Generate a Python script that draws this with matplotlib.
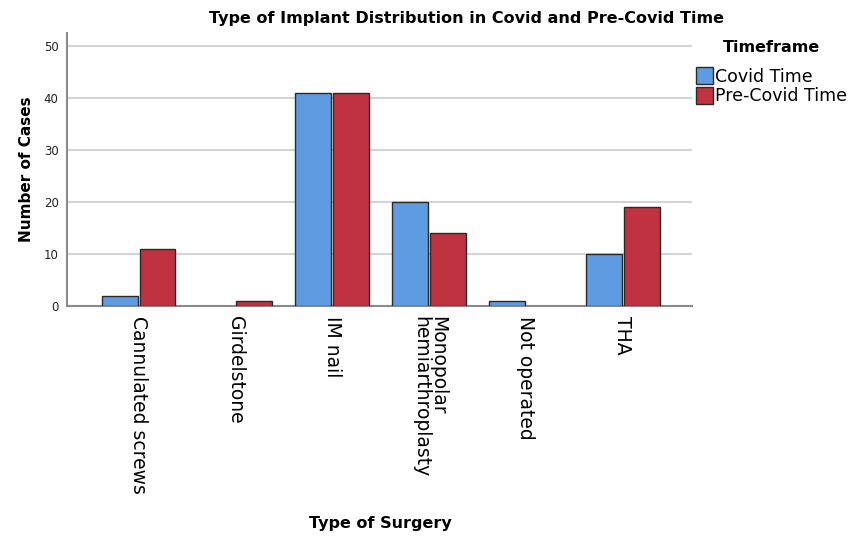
import matplotlib
matplotlib.use("Agg")
import matplotlib.pyplot as plt
import numpy as np
from matplotlib.patches import Patch

categories = ["Cannulated screws", "Girdelstone", "IM nail", "Monopolar\nhemiarthroplasty", "Not operated", "THA"]
series_names = ["Covid Time", "Pre-Covid Time"]
covid = [2, 0, 41, 20, 1, 10]
precovid = [11, 1, 41, 14, 0, 19]
yticks = [0, 10, 20, 30, 40, 50]

colors = ["#5F9BE0", "#C0323F"]

fig = plt.figure(figsize=(8.64, 5.36), dpi=100)
ax = fig.add_axes([0.0775, 0.429, 0.724, 0.509])

x = np.arange(len(categories))
w = 0.37
off = 0.195
for vals, dx, c in [(covid, -off, colors[0]), (precovid, off, colors[1])]:
    v = np.array(vals, dtype=float)
    mask = v > 0
    ax.bar(x[mask] + dx, v[mask], width=w, color=c, edgecolor="#2a2a2a", linewidth=1.0, zorder=3)

ax.set_xlim(-0.74, 5.72)
ax.set_ylim(0, 52.5)
ax.set_yticks(yticks)
ax.yaxis.grid(True, color="#d4d4d4", linewidth=1.5, zorder=0)
ax.set_axisbelow(True)
for s in ["top", "right"]:
    ax.spines[s].set_visible(False)
for s in ["left", "bottom"]:
    ax.spines[s].set_color("#8a8a8a")
    ax.spines[s].set_linewidth(1.5)
ax.tick_params(axis="y", length=0, labelsize=8.5, pad=6, colors="#222222")
ax.tick_params(axis="x", length=0, pad=7)
ax.set_xticks(x)
ax.set_xticklabels(categories, rotation=270, fontsize=13.5,
                   linespacing=0.82, family="DejaVu Sans")
for lab in ax.get_xticklabels():
    lab.set_rotation_mode("anchor")
    lab.set_ha("left")
    lab.set_va("center")

ax.set_ylabel("Number of Cases", fontsize=11, fontweight="bold", labelpad=7, family="DejaVu Sans Condensed")
fig.text(0.44, 0.01, "Type of Surgery", ha="center", va="bottom", fontsize=11.5,
         fontweight="bold", family="DejaVu Sans Condensed")
fig.text(0.54, 0.966, "Type of Implant Distribution in Covid and Pre-Covid Time", ha="center",
         va="center", fontsize=11.5, fontweight="bold", family="DejaVu Sans Condensed")

handles = [Patch(facecolor=colors[i], edgecolor="#2a2a2a", label=series_names[i]) for i in range(2)]
leg = fig.legend(handles=handles, title="Timeframe", loc="upper left", bbox_to_anchor=(0.805, 0.926),
                 frameon=False, fontsize=12.5, handlelength=1.0, handleheight=1.15,
                 handletextpad=0.15, labelspacing=0.05, borderaxespad=0, borderpad=0)
leg.get_title().set_fontweight("bold")
leg.get_title().set_fontsize(11.5)
leg.get_title().set_family("DejaVu Sans Condensed")
leg._legend_box.sep = 9

fig.savefig("out.png", dpi=100)
